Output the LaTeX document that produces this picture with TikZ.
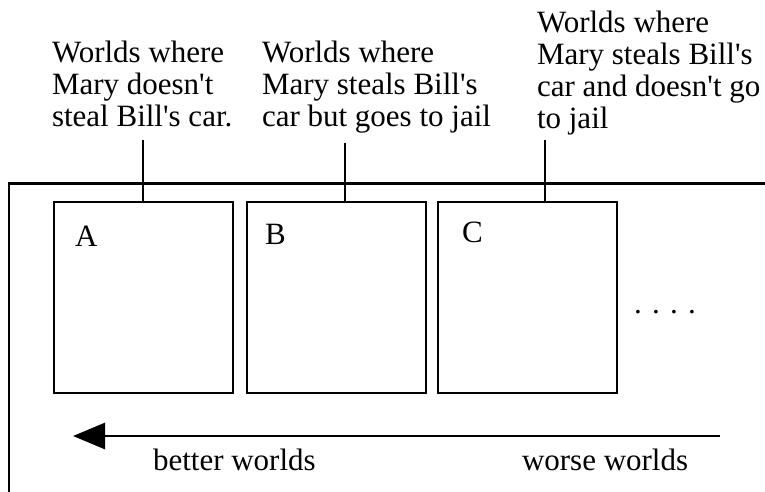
\documentclass[tikz,border=0pt]{standalone}
\usepackage{fontspec}
\setmainfont{Liberation Serif}
\usetikzlibrary{arrows.meta}
\begin{document}
\begin{tikzpicture}[x=1pt,y=-1pt,
  txt/.style={font=\fontsize{31}{32}\selectfont, inner sep=0pt, outer sep=0pt},
  lbl/.style={txt, align=left, anchor=north west},
  box/.style={draw, line width=2.8pt, minimum width=179pt, minimum height=191pt, inner sep=0pt, outer sep=0pt},
  ln/.style={line width=2.8pt},
  lineto/.style={line width=2.8pt}]
\useasboundingbox (0,0) rectangle (765,491);
% frame
\draw[ln] (770,183.5) -- (9,183.5) -- (9,496);
% boxes
\node[box] (A) at (143.5,297.5) {};
\node[box] (B) at (336.5,297.5) {};
\node[box] (C) at (527.5,297.5) {};
\node[txt, anchor=base west] (la) at (75,246) {A};
\node[txt, anchor=base west] (lb) at (265,244) {B};
\node[txt, anchor=base west] (lc) at (462,242) {C};
\node[txt, anchor=base west] (dots) at (634,313.5) {. . . .};
% labels
\node[lbl] (t1) at (52,41) {Worlds where\\Mary doesn\textquotesingle t\\steal Bill\textquotesingle s car.};
\node[lbl] (t2) at (262,41) {Worlds where\\Mary steals Bill\textquotesingle s\\car but goes to jail};
\node[lbl] (t3) at (537,10.5) {Worlds where\\Mary steals Bill\textquotesingle s\\car and doesn\textquotesingle t go\\to jail};
% connectors
\coordinate (ca) at (143,140);
\coordinate (cb) at (345,142.5);
\coordinate (cc) at (545,140);
\draw[lineto] (ca) -- (ca |- A.north);
\draw[lineto] (cb) -- (cb |- B.north);
\draw[lineto] (cc) -- (cc |- C.north);
% arrow
\coordinate (ar1) at (720,436);
\coordinate (ar0) at (73,436);
\draw[ln, -{Triangle[length=32pt,width=26pt]}] (ar1) -- (ar0);
\node[txt, anchor=base west] (bw) at (153,470) {better worlds};
\node[txt, anchor=base west] (ww) at (522,470) {worse worlds};
\end{tikzpicture}
\end{document}
